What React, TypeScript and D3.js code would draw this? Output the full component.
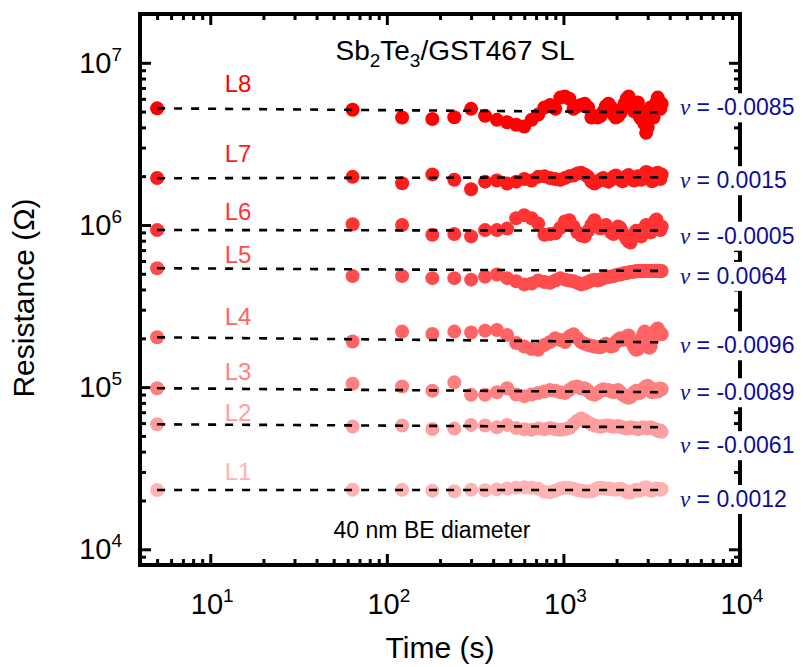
import React, { useEffect, useRef } from "react";
import * as d3 from "d3";

// measurement times (s)
const times = [
  5, 64, 122, 181, 241, 300,
  360, 420, 480, 540, 600, 660, 720, 780, 840, 900,
  960, 1020, 1080, 1140, 1200, 1260, 1320, 1380, 1440, 1500,
  1560, 1620, 1680, 1740, 1800, 1860, 1920, 1980, 2040, 2100,
  2160, 2220, 2280, 2340, 2400, 2460, 2520, 2580, 2640, 2700,
  2760, 2820, 2880, 2940, 3000, 3060, 3120, 3180, 3240, 3300,
  3360, 3420, 3480, 3540, 3600,
];

const levels = ["L1", "L2", "L3", "L4", "L5", "L6", "L7", "L8"];

const r1 = [
  2.32e4, 2.33e4, 2.33e4, 2.3e4, 2.28e4, 2.33e4,
  2.31e4, 2.34e4, 2.37e4, 2.4e4, 2.41e4, 2.4e4, 2.36e4, 2.26e4, 2.25e4, 2.3e4,
  2.37e4, 2.4e4, 2.39e4, 2.36e4, 2.32e4, 2.3e4, 2.28e4, 2.27e4, 2.27e4, 2.32e4,
  2.38e4, 2.4e4, 2.38e4, 2.36e4, 2.37e4, 2.35e4, 2.34e4, 2.33e4, 2.35e4, 2.36e4,
  2.33e4, 2.3e4, 2.26e4, 2.24e4, 2.24e4, 2.27e4, 2.3e4, 2.33e4, 2.32e4, 2.3e4,
  2.33e4, 2.37e4, 2.4e4, 2.41e4, 2.38e4, 2.34e4, 2.3e4, 2.3e4, 2.32e4, 2.35e4,
  2.37e4, 2.36e4, 2.34e4, 2.33e4, 2.35e4,
];
const r2 = [
  5.9e4, 5.71e4, 5.8e4, 5.52e4, 5.55e4, 5.85e4,
  5.8e4, 5.65e4, 5.85e4, 5.6e4, 5.5e4, 5.45e4, 5.55e4, 5.5e4, 5.6e4, 5.5e4,
  5.45e4, 5.5e4, 5.6e4, 5.9e4, 6.2e4, 6.4e4, 6.25e4, 6.05e4, 5.9e4, 5.8e4,
  5.75e4, 5.7e4, 5.75e4, 5.8e4, 5.8e4, 5.75e4, 5.7e4, 5.72e4, 5.75e4, 5.7e4,
  5.65e4, 5.6e4, 5.55e4, 5.6e4, 5.65e4, 5.62e4, 5.6e4, 5.55e4, 5.5e4, 5.55e4,
  5.6e4, 5.65e4, 5.62e4, 5.6e4, 5.55e4, 5.6e4, 5.65e4, 5.6e4, 5.55e4, 5.5e4,
  5.45e4, 5.4e4, 5.35e4, 5.4e4, 5.3e4,
];
const r3 = [
  9.85e4, 1.05e5, 1.01e5, 9.5e4, 1.07e5, 8.96e4,
  8.96e4, 9.3e4, 9.85e4, 9.0e4, 8.8e4, 9.0e4, 9.2e4, 9.4e4, 9.6e4, 9.5e4,
  9.3e4, 9.2e4, 9.6e4, 1.0e5, 1.01e5, 9.8e4, 9.85e4, 9.5e4, 9.1e4, 8.96e4,
  9.2e4, 9.5e4, 9.7e4, 9.6e4, 9.6e4, 9.4e4, 9.3e4, 9.5e4, 9.6e4, 9.3e4,
  9.0e4, 8.8e4, 8.7e4, 8.6e4, 8.7e4, 9.0e4, 9.3e4, 9.5e4, 9.3e4, 9.2e4,
  9.4e4, 9.7e4, 9.9e4, 1.01e5, 1.02e5, 1.0e5, 9.6e4, 9.3e4, 9.5e4, 9.7e4,
  9.6e4, 9.4e4, 9.6e4, 9.8e4, 9.7e4,
];
const r4 = [
  2.03e5, 1.91e5, 2.2e5, 2.13e5, 2.2e5, 2.17e5,
  2.23e5, 2.25e5, 2.1e5, 1.87e5, 1.78e5, 1.72e5, 1.7e5, 1.82e5, 1.9e5, 2.0e5,
  1.95e5, 1.9e5, 2.05e5, 2.12e5, 2.0e5, 1.9e5, 1.85e5, 1.82e5, 1.8e5, 1.78e5,
  1.77e5, 1.76e5, 1.8e5, 1.85e5, 1.82e5, 1.78e5, 1.8e5, 1.9e5, 1.96e5, 2.0e5,
  1.95e5, 1.98e5, 2.05e5, 2.08e5, 1.95e5, 1.85e5, 1.75e5, 1.7e5, 1.72e5, 1.8e5,
  1.95e5, 2.1e5, 2.2e5, 2.15e5, 1.9e5, 1.75e5, 1.78e5, 1.95e5, 2.1e5, 2.2e5,
  2.26e5, 2.3e5, 2.2e5, 2.15e5, 2.12e5,
];
const r5 = [
  5.41e5, 4.84e5, 4.84e5, 4.7e5, 4.7e5, 4.6e5,
  4.8e5, 4.95e5, 4.7e5, 4.5e5, 4.3e5, 4.35e5, 4.55e5, 4.45e5, 4.4e5, 4.55e5,
  4.7e5, 4.6e5, 4.55e5, 4.5e5, 4.4e5, 4.3e5, 4.35e5, 4.45e5, 4.55e5, 4.6e5,
  4.55e5, 4.6e5, 4.7e5, 4.75e5, 4.8e5, 4.8e5, 4.85e5, 4.9e5, 4.95e5, 4.95e5,
  5.0e5, 5.05e5, 5.05e5, 5.1e5, 5.12e5, 5.15e5, 5.15e5, 5.2e5, 5.2e5, 5.2e5,
  5.18e5, 5.2e5, 5.22e5, 5.2e5, 5.22e5, 5.2e5, 5.22e5, 5.2e5, 5.22e5, 5.2e5,
  5.22e5, 5.2e5, 5.2e5, 5.18e5, 5.2e5,
];
const r6 = [
  9.3e5, 1.01e6, 1.0e6, 8.7e5, 8.8e5, 8.5e5,
  9.3e5, 9.3e5, 9.5e5, 1.1e6, 1.15e6, 1.1e6, 1.02e6, 8.7e5, 8.8e5, 8.9e5,
  9.6e5, 1.05e6, 1.07e6, 9.8e5, 9.0e5, 8.6e5, 8.5e5, 9.2e5, 1.0e6, 1.07e6,
  1.0e6, 9.5e5, 9.7e5, 1.0e6, 9.5e5, 9.0e5, 8.8e5, 9.3e5, 9.8e5, 9.6e5,
  9.0e5, 8.6e5, 8.2e5, 7.9e5, 7.8e5, 8.3e5, 8.8e5, 9.2e5, 9.0e5, 8.7e5,
  8.5e5, 9.0e5, 9.6e5, 1.0e6, 9.7e5, 9.2e5, 9.0e5, 9.5e5, 1.0e6, 1.05e6,
  1.08e6, 1.02e6, 9.6e5, 9.3e5, 9.8e5,
];
const r7 = [
  1.95e6, 1.98e6, 1.81e6, 2.05e6, 1.9e6, 1.66e6,
  1.85e6, 1.88e6, 1.8e6, 1.85e6, 1.92e6, 1.88e6, 1.98e6, 2.0e6, 1.95e6, 1.92e6,
  1.9e6, 1.95e6, 2.0e6, 2.02e6, 2.08e6, 2.1e6, 2.05e6, 1.98e6, 1.85e6, 1.8e6,
  1.85e6, 1.9e6, 1.95e6, 1.88e6, 1.85e6, 1.9e6, 1.98e6, 2.02e6, 1.95e6, 1.9e6,
  1.86e6, 1.92e6, 2.0e6, 2.03e6, 1.97e6, 1.9e6, 1.88e6, 1.95e6, 2.0e6, 1.95e6,
  1.9e6, 1.98e6, 2.05e6, 2.12e6, 2.1e6, 2.0e6, 1.92e6, 1.86e6, 1.9e6, 2.02e6,
  2.08e6, 2.1e6, 2.0e6, 1.92e6, 2.05e6,
];
const r8 = [
  5.24e6, 5.13e6, 4.6e6, 4.5e6, 4.62e6, 5.2e6,
  4.72e6, 4.45e6, 4.3e6, 4.15e6, 4.05e6, 4.45e6, 4.8e6, 5.3e6, 5.5e6, 5.2e6,
  6.1e6, 6.2e6, 6.0e6, 5.2e6, 5.4e6, 5.5e6, 5.6e6, 5.3e6, 4.6e6, 4.7e6,
  4.6e6, 4.7e6, 5.0e6, 5.4e6, 5.6e6, 5.3e6, 4.8e6, 4.6e6, 4.7e6, 4.9e6,
  5.2e6, 5.6e6, 6.0e6, 6.2e6, 5.8e6, 5.4e6, 5.0e6, 5.5e6, 5.7e6, 4.7e6,
  4.5e6, 4.9e6, 4.2e6, 3.7e6, 4.0e6, 4.6e6, 5.3e6, 5.0e6, 4.6e6, 5.1e6,
  5.7e6, 6.1e6, 5.6e6, 5.2e6, 5.6e6,
];
const resistances = [r1, r2, r3, r4, r5, r6, r7, r8];

// power-law drift fit, value at first and last time
const fitStart = [2.32e4, 5.9e4, 9.85e4, 2.03e5, 5.41e5, 9.31e5, 1.94e6, 5.24e6];
const fitEnd = [2.32e4, 5.66e4, 9.3e4, 1.89e5, 5.21e5, 9.22e5, 1.97e6, 4.95e6];
const nuValues = ["0.0012", "-0.0061", "-0.0089", "-0.0096", "0.0064", "-0.0005", "0.0015", "-0.0085"];

const colors = ["#ffb3b3", "#ff9e9e", "#ff8080", "#ff6464", "#ff4c4c", "#ff3434", "#ff1a1a", "#ff0000"];
const labelLift = [10, 3, 8, 12, 5, 10, 16, 16];
const nuDrop = [17, 26, 8, 11, 13, 13, 11, 3];

const xTickLabels = ["1", "2", "3", "4"];
const yTickLabels = ["4", "5", "6", "7"];

const FONT = "'Liberation Sans', Arial, Helvetica, sans-serif";

export default function App() {
  const svgRef = useRef<SVGSVGElement>(null);

  useEffect(() => {
    const W = 803;
    const H = 667;
    const left = 140;
    const right = 740;
    const top = 14;
    const bottom = 565;

    d3.select(svgRef.current).selectAll("*").remove();
    const svg = d3.select(svgRef.current).attr("width", W).attr("height", H);

    svg.append("rect").attr("width", W).attr("height", H).attr("fill", "#fff");

    const x = d3.scaleLog().domain([4, 1e4]).range([left, right]);
    const y = d3.scaleLog().domain([8e3, 2e7]).range([bottom, top]);

    const xMajor = [10, 100, 1000, 10000];
    const yMajor = [1e4, 1e5, 1e6, 1e7];
    const xMinor = x.ticks().filter((v) => !xMajor.includes(v));
    const yMinor = y.ticks().filter((v) => !yMajor.includes(v));

    // ticks (inward) on all four sides
    const addAxis = (axis: any, tx: number, ty: number) => {
      const g = svg
        .append("g")
        .attr("transform", `translate(${tx},${ty})`)
        .call(axis);
      g.select(".domain").remove();
      g.selectAll("line").attr("stroke", "#000").attr("stroke-width", 3);
      g.selectAll("text").remove();
    };
    addAxis(d3.axisBottom(x).tickValues(xMajor).tickSize(-11), 0, bottom);
    addAxis(d3.axisBottom(x).tickValues(xMinor).tickSize(-6), 0, bottom);
    addAxis(d3.axisTop(x).tickValues(xMajor).tickSize(-11), 0, top);
    addAxis(d3.axisTop(x).tickValues(xMinor).tickSize(-6), 0, top);
    addAxis(d3.axisLeft(y).tickValues(yMajor).tickSize(-11), left, 0);
    addAxis(d3.axisLeft(y).tickValues(yMinor).tickSize(-6), left, 0);
    addAxis(d3.axisRight(y).tickValues(yMajor).tickSize(-11), right, 0);
    addAxis(d3.axisRight(y).tickValues(yMinor).tickSize(-6), right, 0);

    svg
      .append("rect")
      .attr("x", left)
      .attr("y", top)
      .attr("width", right - left)
      .attr("height", bottom - top)
      .attr("fill", "none")
      .attr("stroke", "#000")
      .attr("stroke-width", 4);

    // tick labels
    xMajor.forEach((v, i) => {
      const t = svg
        .append("text")
        .attr("x", x(v) + 2)
        .attr("y", 614)
        .attr("text-anchor", "middle")
        .attr("font-family", FONT)
        .attr("font-size", 29)
        .text("10");
      t.append("tspan").attr("dy", -12).attr("font-size", 19).text(xTickLabels[i]);
    });
    yMajor.forEach((v, i) => {
      const t = svg
        .append("text")
        .attr("x", 122)
        .attr("y", y(v) + 10)
        .attr("text-anchor", "end")
        .attr("font-family", FONT)
        .attr("font-size", 29)
        .text("10");
      t.append("tspan").attr("dy", -12).attr("font-size", 19).text(yTickLabels[i]);
    });

    // axis titles
    svg
      .append("text")
      .attr("transform", "translate(34,298) rotate(-90)")
      .attr("text-anchor", "middle")
      .attr("font-family", FONT)
      .attr("font-size", 30)
      .text("Resistance (\u03A9)");
    svg
      .append("text")
      .attr("x", 440)
      .attr("y", 658)
      .attr("text-anchor", "middle")
      .attr("font-family", FONT)
      .attr("font-size", 30)
      .text("Time (s)");

    // data
    const series = levels.map((name, i) => ({
      name,
      color: colors[i],
      pts: times.map((t, j) => ({ t, r: resistances[i][j] })),
    }));

    series.forEach((s) => {
      svg
        .append("g")
        .selectAll("circle")
        .data(s.pts)
        .join("circle")
        .attr("cx", (d) => x(d.t))
        .attr("cy", (d) => y(d.r))
        .attr("r", 7)
        .attr("fill", s.color);
    });

    const t0 = times[0];
    const t1 = times[times.length - 1];
    const line = d3
      .line<{ t: number; r: number }>()
      .x((d) => x(d.t))
      .y((d) => y(d.r));

    series.forEach((s, i) => {
      svg
        .append("path")
        .attr(
          "d",
          line([
            { t: t0, r: fitStart[i] },
            { t: t1, r: fitEnd[i] },
          ])
        )
        .attr("fill", "none")
        .attr("stroke", "#000")
        .attr("stroke-width", 2.6)
        .attr("stroke-dasharray", "8,9");

      svg
        .append("text")
        .attr("x", 238)
        .attr("y", y(fitStart[i]) - labelLift[i])
        .attr("text-anchor", "middle")
        .attr("font-family", FONT)
        .attr("font-size", 24)
        .attr("fill", s.color)
        .text(s.name);

      const ny = y(fitEnd[i]) + nuDrop[i];
      svg
        .append("rect")
        .attr("x", 676)
        .attr("y", ny - 22)
        .attr("width", W - 676)
        .attr("height", 29)
        .attr("fill", "#fff");
      const nt = svg
        .append("text")
        .attr("x", 680)
        .attr("y", ny)
        .attr("font-family", FONT)
        .attr("font-size", 23)
        .attr("fill", "#0d0d99");
      nt.append("tspan")
        .attr("font-family", "'Liberation Serif', 'Times New Roman', serif")
        .attr("font-style", "italic")
        .text("\u03BD");
      nt.append("tspan").text(` = ${nuValues[i]}`);
    });

    // annotations
    const title = svg
      .append("text")
      .attr("x", 455)
      .attr("y", 60)
      .attr("text-anchor", "middle")
      .attr("font-family", FONT)
      .attr("font-size", 28);
    title.append("tspan").text("Sb");
    title.append("tspan").attr("font-size", 19).attr("dy", 7).text("2");
    title.append("tspan").attr("dy", -7).text("Te");
    title.append("tspan").attr("font-size", 19).attr("dy", 7).text("3");
    title.append("tspan").attr("dy", -7).text("/GST467 SL");

    svg
      .append("text")
      .attr("x", 432)
      .attr("y", 538)
      .attr("text-anchor", "middle")
      .attr("font-family", FONT)
      .attr("font-size", 23)
      .text("40 nm BE diameter");
  }, []);

  return (
    <div style={{ position: "absolute", left: 0, top: 0 }}>
      <svg ref={svgRef}></svg>
    </div>
  );
}
